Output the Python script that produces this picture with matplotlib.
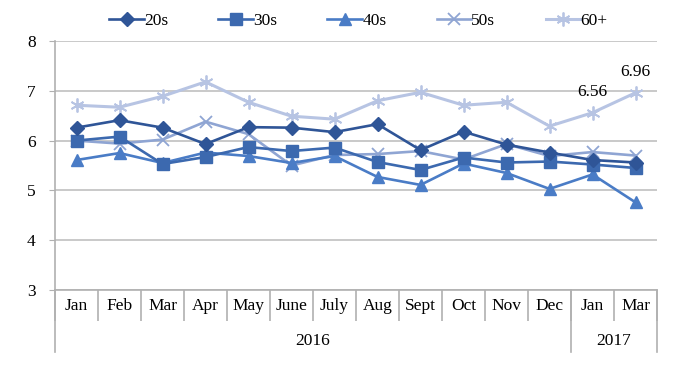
import matplotlib
matplotlib.use('Agg')
import matplotlib.pyplot as plt
import matplotlib.transforms as mtransforms

months = ['Jan', 'Feb', 'Mar', 'Apr', 'May', 'June', 'July', 'Aug', 'Sept', 'Oct', 'Nov', 'Dec', 'Jan', 'Mar']
years = ['2016', '2017']
year_spans = [(0, 12), (12, 14)]

s20 = [6.26, 6.41, 6.26, 5.93, 6.27, 6.26, 6.17, 6.33, 5.81, 6.18, 5.92, 5.76, 5.61, 5.56]
s30 = [6.00, 6.08, 5.53, 5.67, 5.87, 5.79, 5.86, 5.57, 5.41, 5.66, 5.56, 5.58, 5.52, 5.45]
s40 = [5.61, 5.75, 5.55, 5.76, 5.69, 5.55, 5.69, 5.27, 5.11, 5.54, 5.35, 5.03, 5.32, 4.76]
s50 = [6.00, 5.94, 6.02, 6.38, 6.13, 5.50, 5.71, 5.73, 5.79, 5.62, 5.93, 5.69, 5.77, 5.70]
s60 = [6.71, 6.67, 6.89, 7.18, 6.77, 6.49, 6.43, 6.80, 6.97, 6.71, 6.77, 6.29, 6.56, 6.96]

plt.rcParams['font.family'] = ['Liberation Serif', 'DejaVu Serif']
fs = 12.5

fig = plt.figure(figsize=(7, 3.75), dpi=100)
ax = fig.add_axes([55/700, 1-290/375, 602/700, 249/375])

x = list(range(len(months)))
ax.plot(x, s20, color='#2F5597', lw=1.9, marker='D', ms=7, label='20s', zorder=5)
ax.plot(x, s30, color='#3C69AF', lw=1.9, marker='s', ms=8, label='30s', zorder=4)
ax.plot(x, s40, color='#4A7CC6', lw=1.9, marker='^', ms=8.5, label='40s', zorder=3)
ax.plot(x, s50, color='#8FA5D3', lw=1.9, marker='x', ms=8, mew=1.3, label='50s', zorder=2)
ax.plot(x, s60, color='#B7C4E3', lw=2.2, marker=(6, 2, 0), ms=10, mew=1.3, label='60+', zorder=1)

# data labels on the last two 60+ points
for i in [12, 13]:
    ax.annotate('%.2f' % s60[i], (i, s60[i]), xytext=(0, 9), textcoords='offset points',
                ha='center', va='bottom', fontsize=fs)

ax.set_ylim(3, 8)
ax.set_xlim(-0.5, len(months) - 0.5)
ax.set_yticks(range(3, 9))
ax.grid(axis='y', color='#C0C0C0', lw=1.2)
ax.set_axisbelow(True)
for side in ['top', 'right']:
    ax.spines[side].set_visible(False)
ax.spines['left'].set_color('#B0B0B0')
ax.spines['bottom'].set_color('#B0B0B0')
ax.spines['left'].set_linewidth(1.2)
ax.spines['bottom'].set_linewidth(1.2)
ax.tick_params(axis='y', length=4, color='#B0B0B0', pad=10, labelsize=fs)

# month labels and separators
ax.set_xticks(x)
ax.set_xticklabels(months)
ax.tick_params(axis='x', length=0, pad=6, labelsize=fs)
ax.set_xticks([i - 0.5 for i in range(len(months) + 1)], minor=True)
ax.tick_params(axis='x', which='minor', length=22, color='#B0B0B0', width=1.2)

# year row
trans = mtransforms.blended_transform_factory(ax.transData, ax.transAxes)
for yr, (a, b) in zip(years, year_spans):
    ax.text((a + b - 1) / 2, -0.205, yr, transform=trans, ha='center', va='center', fontsize=fs)
for bx in [-0.5, 11.5, 13.5]:
    ax.plot([bx, bx], [0, -0.247], transform=trans, color='#B0B0B0', lw=1.2, clip_on=False)

ax.legend(loc='upper center', bbox_to_anchor=(0.504, 1.175), ncol=5, frameon=False,
          handlelength=2.0, columnspacing=2.9, handletextpad=0.0, fontsize=fs)

fig.savefig('out.png', dpi=100)
